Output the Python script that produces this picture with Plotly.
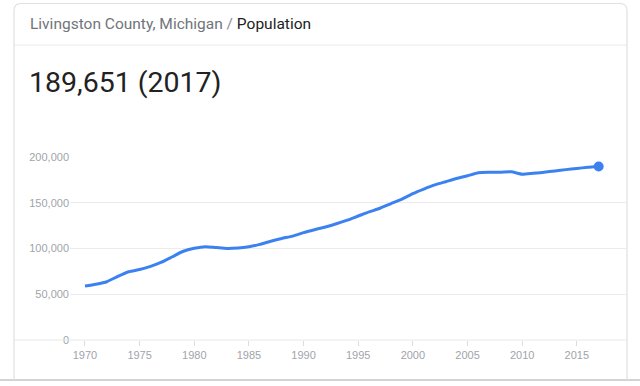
import plotly.graph_objects as go

# ---- data ----
years = list(range(1970, 2018))
population = [
    59000, 61000, 63700, 69500, 74600, 77000, 80500, 85000, 91000, 97000,
    100200, 102000, 101000, 100000, 100500, 102000, 104500, 108000, 111000, 113500,
    117300, 120500, 123500, 127000, 131000, 135500, 140000, 144000, 149000, 154000,
    160000, 165000, 169500, 173000, 176500, 179500, 182800, 183300, 183300, 183800,
    181200, 182200, 183300, 184800, 186200, 187500, 188700, 189651,
]
y_ticks = [0, 50000, 100000, 150000, 200000]
y_tick_text = ["0", "50,000", "100,000", "150,000", "200,000"]
x_ticks = [1970, 1975, 1980, 1985, 1990, 1995, 2000, 2005, 2010, 2015]
header_place = "Livingston County, Michigan"
header_metric = "Population"
headline = "189,651 (2017)"

W, H = 640, 386
L, R, T, B = 70, 14, 157, 46
PW, PH = W - L - R, H - T - B


def px(x):
    return (x - L) / PW


def py(y):
    return (H - B - y) / PH


line_color = "#3b82f0"

fig = go.Figure()
fig.add_trace(go.Scatter(
    x=years, y=population, mode="lines",
    line=dict(color=line_color, width=3, shape="spline", smoothing=0.6),
    hoverinfo="skip", showlegend=False,
))
fig.add_trace(go.Scatter(
    x=[years[-1]], y=[population[-1]], mode="markers",
    marker=dict(color=line_color, size=10),
    hoverinfo="skip", showlegend=False,
))

shapes = []
# zero line extending to card edge
shapes.append(dict(type="line", xref="paper", yref="paper",
                   x0=px(14), x1=1, y0=0, y1=0,
                   line=dict(color="#e8e8e8", width=1)))
# page bottom edge line
shapes.append(dict(type="line", xref="paper", yref="paper",
                   x0=px(0), x1=px(640), y0=py(380), y1=py(380),
                   line=dict(color="#c4c4c4", width=1.5)))
# header divider
shapes.append(dict(type="line", xref="paper", yref="paper",
                   x0=px(14), x1=px(627), y0=py(45), y1=py(45),
                   line=dict(color="#ebebeb", width=1)))
# card border with rounded top corners
r = 7
xl, xr, yt, yb = px(14), px(627), py(3.5), py(380)
rx, ry = r / PW, r / PH
path = (f"M {xl},{yb} L {xl},{yt - ry} Q {xl},{yt} {xl + rx},{yt} "
        f"L {xr - rx},{yt} Q {xr},{yt} {xr},{yt - ry} L {xr},{yb}")
shapes.append(dict(type="path", xref="paper", yref="paper", path=path,
                   line=dict(color="#e0e0e0", width=1.2)))

annotations = [
    dict(xref="paper", yref="paper", x=px(28), y=py(24),
         xanchor="left", yanchor="middle", showarrow=False,
         text=f"<span style='color:#70757a'>{header_place}</span>"
              f"<span style='color:#8a8e93'> / </span>{header_metric}",
         font=dict(family="Roboto", size=15.5, color="#222222")),
    dict(xref="paper", yref="paper", x=px(27), y=py(82),
         xanchor="left", yanchor="middle", showarrow=False,
         text=headline,
         font=dict(family="Roboto", size=28.5, color="#222222")),
]

fig.update_layout(
    width=W, height=H,
    margin=dict(l=L, r=R, t=T, b=B),
    paper_bgcolor="white", plot_bgcolor="white",
    shapes=shapes, annotations=annotations,
    xaxis=dict(
        range=[1968.63, 1968.63 + PW / 10.93],
        tickmode="array", tickvals=x_ticks,
        ticks="outside", ticklen=5, tickcolor="#dddddd",
        showgrid=False, zeroline=False, showline=False,
        tickfont=dict(family="Arial", size=11, color="#a0a4ab"),
        fixedrange=True,
    ),
    yaxis=dict(
        range=[0, 200000],
        tickmode="array", tickvals=y_ticks, ticktext=y_tick_text,
        showgrid=True, gridcolor="#ececec", gridwidth=1,
        zeroline=False, showline=False,
        tickfont=dict(family="Arial", size=11, color="#a0a4ab"),
        fixedrange=True,
    ),
)

fig.write_html("out.html", config={"displayModeBar": False},
               post_script="document.body.style.margin='0';document.body.style.overflow='hidden';")
